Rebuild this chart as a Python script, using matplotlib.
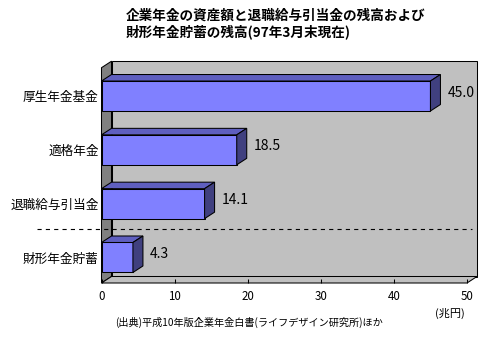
import matplotlib
matplotlib.use("Agg")
import matplotlib.pyplot as plt
from matplotlib.patches import Polygon
import numpy as np

plt.rcParams['font.family'] = ['Noto Sans CJK JP', 'DejaVu Sans']
plt.rcParams['lines.scale_dashes'] = False

# data (兆円)
categories = ['厚生年金基金', '適格年金', '退職給与引当金', '財形年金貯蓄']
values = [45.0, 18.5, 14.1, 4.3]
xticks = [0, 10, 20, 30, 40, 50]
title_lines = ['企業年金の資産額と退職給与引当金の残高および',
               '財形年金貯蓄の残高(97年3月末現在)']
unit_label = '(兆円)'
source_note = '(出典)平成10年版企業年金白書(ライフデザイン研究所)ほか'

W, H = 500, 340
fig = plt.figure(figsize=(W / 100, H / 100), dpi=100)
fig.patch.set_facecolor('white')

# front plane of the 3d box, in pixels
left_px, right_px, top_px, bot_px = 101.5, 467, 67.7, 283
ax = fig.add_axes([left_px / W, 1 - bot_px / H,
                   (right_px - left_px) / W, (bot_px - top_px) / H])
ax.set_facecolor('none')
for s in ax.spines.values():
    s.set_visible(False)

ytop, ybot = -0.526, 3.474
ax.set_xlim(0, 50)
ax.set_ylim(ybot, ytop)

# depth offset of the 3d effect (10px right, 6.5px up) in data units
inv = ax.transData.inverted()
p0 = ax.transData.transform((0, 0))
d = inv.transform(p0 + np.array([10, 6.5])) - inv.transform(p0)
ddx, ddy = d

edge = dict(edgecolor='black', linewidth=0.75, clip_on=False)
back = Polygon([(ddx, ybot + ddy), (50 + ddx, ybot + ddy),
                (50 + ddx, ytop + ddy), (ddx, ytop + ddy)],
               facecolor='#C0C0C0', zorder=0.5, **edge)
side = Polygon([(0, ybot), (ddx, ybot + ddy), (ddx, ytop + ddy), (0, ytop)],
               facecolor='#808080', zorder=0.6, **edge)
floor = Polygon([(0, ybot), (50, ybot), (50 + ddx, ybot + ddy),
                 (ddx, ybot + ddy)],
                facecolor='#C0C0C0', zorder=0.6, **edge)
for p in (back, side, floor):
    ax.add_patch(p)

# bars: front face + top + end
bh = 0.557
ypos = np.arange(len(categories))
ax.barh(ypos, values, height=bh, color='#8080FF', edgecolor='black',
        linewidth=0.75, zorder=2)
for y, v in zip(ypos, values):
    y0 = y - bh / 2
    y1 = y + bh / 2
    top = Polygon([(0, y0), (v, y0), (v + ddx, y0 + ddy), (ddx, y0 + ddy)],
                  facecolor='#5F5FBF', zorder=2, **edge)
    end = Polygon([(v, y0), (v, y1), (v + ddx, y1 + ddy), (v + ddx, y0 + ddy)],
                  facecolor='#40407F', zorder=2, **edge)
    ax.add_patch(top)
    ax.add_patch(end)
    ax.annotate(f'{v:.1f}', xy=(v, y), xytext=(12.2, 2.5),
                textcoords='offset points', ha='left', va='center',
                fontsize=10, color='black')

# separator between company schemes and 財形
ax.plot([-0.176, 1.014], [2.47, 2.47], transform=ax.get_yaxis_transform(),
        color='black', linewidth=0.8, linestyle=(0, (3, 3)),
        clip_on=False, zorder=3)

ax.set_xticks(xticks)
ax.set_xticklabels([str(t) for t in xticks])
ax.tick_params(axis='x', direction='in', length=3, width=0.75, pad=5,
               labelsize=8.3)
ax.set_yticks(ypos)
ax.set_yticklabels(categories)
ax.tick_params(axis='y', length=0, pad=2, labelsize=9.1)

fig.text(126 / W, 1 - 16 / H, title_lines[0], fontsize=9.8,
         fontweight='bold', ha='left', va='center')
fig.text(126 / W, 1 - 31.5 / H, title_lines[1], fontsize=9.8,
         fontweight='bold', ha='left', va='center')
fig.text(450 / W, 1 - 313 / H, unit_label, fontsize=8, ha='center',
         va='center')
fig.text(115 / W, 1 - 322 / H, source_note, fontsize=7.3, ha='left',
         va='center')

fig.savefig('out.png', dpi=100)
